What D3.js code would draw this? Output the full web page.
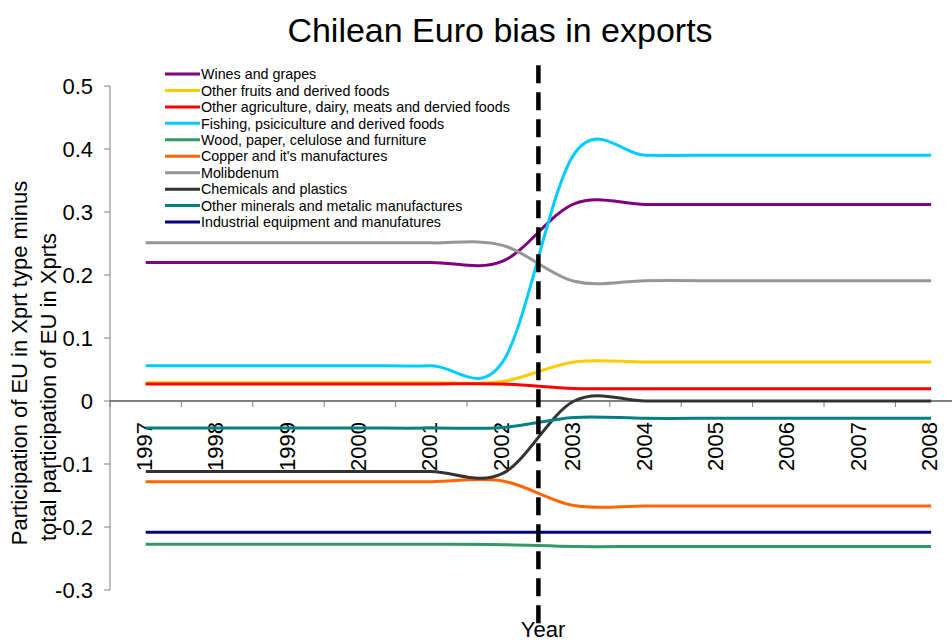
<!DOCTYPE html>
<html>
<head>
<meta charset="utf-8">
<script src="https://cdnjs.cloudflare.com/ajax/libs/d3/7.8.5/d3.min.js"></script>
<style>
    html, body { margin: 0; padding: 0; background: #fff; }
    svg { display: block; font-family: "Liberation Sans", Arial, sans-serif; }
</style>
</head>
<body>
<div id="chart"></div>
<script>
'use strict';

// < chart data >

var years = [1997, 1998, 1999, 2000, 2001, 2002, 2003, 2004, 2005, 2006, 2007, 2008];

var seriesNames = [
    'Wines and grapes',
    'Other fruits and derived foods',
    'Other agriculture, dairy, meats and dervied foods',
    'Fishing, psiciculture and derived foods',
    'Wood, paper, celulose and furniture',
    'Copper and it\'s manufactures',
    'Molibdenum',
    'Chemicals and plastics',
    'Other minerals and metalic manufactures',
    'Industrial equipment and manufatures'
];

var winesValues      = [0.220, 0.220, 0.220, 0.220, 0.220, 0.222, 0.313, 0.312, 0.312, 0.312, 0.312, 0.312];
var fruitsValues     = [0.029, 0.029, 0.029, 0.029, 0.029, 0.031, 0.062, 0.062, 0.062, 0.062, 0.062, 0.062];
var agricultureValues = [0.027, 0.027, 0.027, 0.027, 0.027, 0.027, 0.020, 0.0195, 0.0195, 0.0195, 0.0195, 0.0195];
var fishingValues    = [0.056, 0.056, 0.056, 0.056, 0.056, 0.062, 0.392, 0.390, 0.390, 0.390, 0.390, 0.390];
var woodValues       = [-0.2275, -0.2275, -0.2275, -0.2275, -0.2275, -0.228, -0.231, -0.231, -0.231, -0.231, -0.231, -0.231];
var copperValues     = [-0.128, -0.128, -0.128, -0.128, -0.128, -0.127, -0.166, -0.1665, -0.1665, -0.1665, -0.1665, -0.1665];
var molibdenumValues = [0.251, 0.251, 0.251, 0.251, 0.251, 0.247, 0.190, 0.191, 0.191, 0.191, 0.191, 0.191];
var chemicalsValues  = [-0.112, -0.112, -0.112, -0.112, -0.112, -0.115, 0.000, 0.000, 0.000, 0.000, 0.000, 0.000];
var mineralsValues   = [-0.043, -0.043, -0.043, -0.043, -0.043, -0.042, -0.026, -0.0275, -0.0275, -0.0275, -0.0275, -0.0275];
var industrialValues = [-0.2085, -0.2085, -0.2085, -0.2085, -0.2085, -0.2085, -0.2085, -0.2085, -0.2085, -0.2085, -0.2085, -0.2085];

var yTicks = [-0.3, -0.2, -0.1, 0, 0.1, 0.2, 0.3, 0.4, 0.5];

// year where the dashed break line sits, and its vertical extent in data units
var breakYear = 2002.5;
var breakExtent = [0.533, -0.356];

// < styles >

var seriesColors = ['#800080', '#ffcc00', '#ff0000', '#00ccff', '#339966', '#ff6600', '#969696', '#333333', '#008080', '#000080'];

var drawChart = function () {

    var width = 952;
    var height = 641;

    var allValues = [winesValues, fruitsValues, agricultureValues, fishingValues, woodValues,
        copperValues, molibdenumValues, chemicalsValues, mineralsValues, industrialValues];

    var chartData = seriesNames.map(function (name, i) {
        return {
            name: name,
            color: seriesColors[i],
            values: allValues[i].map(function (v, j) {
                return {year: years[j], value: v};
            })
        };
    });

    var x = d3.scaleBand()
        .domain(years)
        .range([110, 110 + 71.4 * years.length]);

    var y = d3.scaleLinear()
        .domain([-0.3, 0.5])
        .range([590, 86]);

    var xCenter = function (year) {
        return x(year) + x.bandwidth() / 2;
    };

    var svg = d3.select('#chart')
        .append('svg')
            .attr('width', width)
            .attr('height', height);

    // title
    svg.append('text')
        .attr('x', 500)
        .attr('y', 42)
        .attr('text-anchor', 'middle')
        .style('font-size', '34px')
        .text('Chilean Euro bias in exports');

    // y axis
    var yAxisG = svg.append('g');

    yAxisG.append('line')
        .attr('x1', 110).attr('x2', 110)
        .attr('y1', y(0.5)).attr('y2', y(-0.3))
        .attr('stroke', '#808080')
        .attr('stroke-width', 1);

    yAxisG.selectAll('.y-tick')
        .data(yTicks)
        .enter()
        .append('line')
            .attr('x1', 104).attr('x2', 110)
            .attr('y1', function (d) { return y(d); })
            .attr('y2', function (d) { return y(d); })
            .attr('stroke', '#808080');

    yAxisG.selectAll('.y-label')
        .data(yTicks)
        .enter()
        .append('text')
            .attr('x', 93)
            .attr('y', function (d) { return y(d); })
            .attr('dy', '0.36em')
            .attr('text-anchor', 'end')
            .style('font-size', '22px')
            .text(function (d) {
                return d === 0 ? '0' : d.toFixed(1);
            });

    // y axis title, two lines
    var yTitleLines = [
        {text: 'Participation of EU in Xprt type minus', x: 27, y: 363},
        {text: 'total participation of EU in Xprts', x: 56, y: 387}
    ];

    svg.selectAll('.y-title')
        .data(yTitleLines)
        .enter()
        .append('text')
            .attr('transform', function (d) {
                return 'translate(' + d.x + ',' + d.y + ') rotate(-90)';
            })
            .attr('text-anchor', 'middle')
            .style('font-size', '22px')
            .text(function (d) { return d.text; });

    // x axis on zero line
    var xAxisG = svg.append('g');

    xAxisG.append('line')
        .attr('x1', 110).attr('x2', x.range()[1])
        .attr('y1', y(0)).attr('y2', y(0))
        .attr('stroke', '#000')
        .attr('stroke-width', 1);

    var tickPositions = years.map(function (yr) { return x(yr); }).concat([x.range()[1]]);

    xAxisG.selectAll('.x-tick')
        .data(tickPositions)
        .enter()
        .append('line')
            .attr('x1', function (d) { return d; })
            .attr('x2', function (d) { return d; })
            .attr('y1', y(0)).attr('y2', y(0) + 6)
            .attr('stroke', '#808080');

    xAxisG.selectAll('.x-label')
        .data(years)
        .enter()
        .append('text')
            .attr('transform', function (d) {
                return 'translate(' + (xCenter(d) + 6) + ',' + 422 + ') rotate(-90)';
            })
            .attr('text-anchor', 'end')
            .style('font-size', '22px')
            .text(function (d) { return d; });

    svg.append('text')
        .attr('x', 543)
        .attr('y', 637)
        .attr('text-anchor', 'middle')
        .style('font-size', '22px')
        .text('Year');

    // series lines, uniform catmull-rom close to excel smoothing
    var line = d3.line()
        .x(function (d) { return xCenter(d.year); })
        .y(function (d) { return y(d.value); })
        .curve(d3.curveCatmullRom.alpha(0));

    svg.append('g')
        .selectAll('path')
        .data(chartData)
        .enter()
        .append('path')
            .attr('d', function (d) { return line(d.values); })
            .attr('fill', 'none')
            .attr('stroke', function (d) { return d.color; })
            .attr('stroke-width', 3)
            .attr('stroke-linejoin', 'round');

    // dashed break line
    var breakX = xCenter(Math.floor(breakYear)) + x.step() * (breakYear - Math.floor(breakYear));

    svg.append('line')
        .attr('x1', breakX).attr('x2', breakX)
        .attr('y1', y(breakExtent[0])).attr('y2', y(breakExtent[1]))
        .attr('stroke', '#000')
        .attr('stroke-width', 4.5)
        .attr('stroke-dasharray', '18,9');

    // legend
    var legendG = svg.append('g');

    var legendItems = legendG.selectAll('g')
        .data(chartData)
        .enter()
        .append('g')
            .attr('transform', function (d, i) {
                return 'translate(165,' + (74 + i * 16.45) + ')';
            });

    legendItems.append('line')
        .attr('x1', 0).attr('x2', 35)
        .attr('y1', 0).attr('y2', 0)
        .attr('stroke', function (d) { return d.color; })
        .attr('stroke-width', 3);

    legendItems.append('text')
        .attr('x', 36)
        .attr('y', 0)
        .attr('dy', '0.36em')
        .style('font-size', '14.3px')
        .text(function (d) { return d.name; });

};

drawChart();
</script>
</body>
</html>
